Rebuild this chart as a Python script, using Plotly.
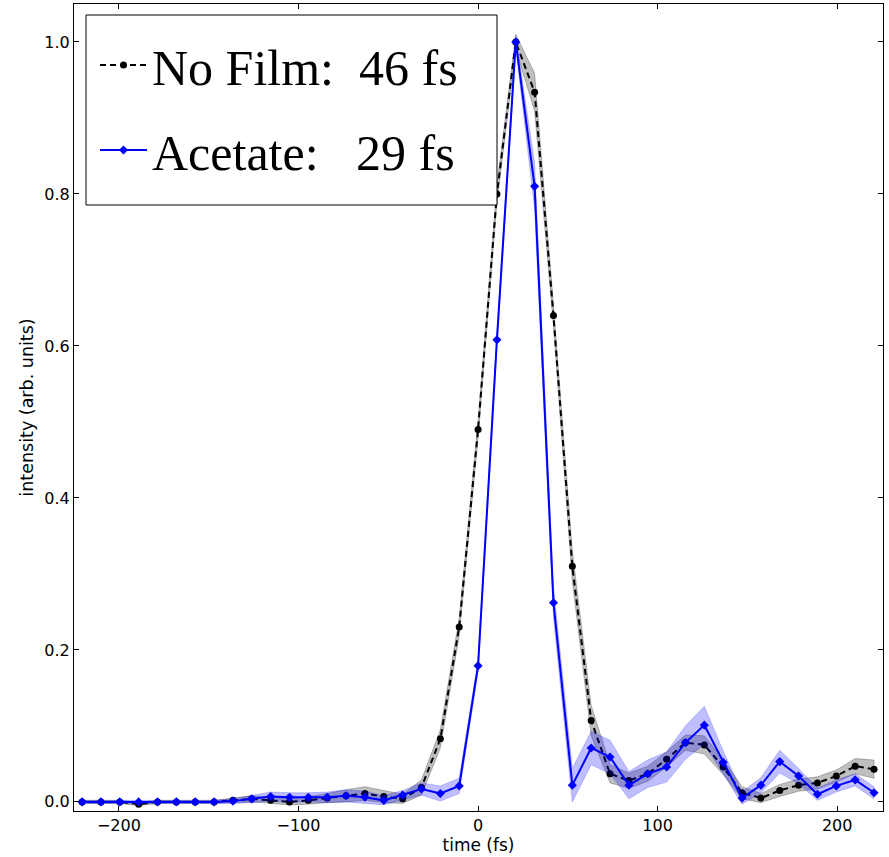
import plotly.graph_objects as go

# time delays (fs)
time_fs = [10.5 * k for k in range(-21, 22)]

nofilm = [0.000, 0.000, 0.000, -0.003, 0.000, 0.000, 0.000, 0.000, 0.002, 0.004,
          0.002, 0.000, 0.002, 0.005, 0.008, 0.011, 0.007, 0.004, 0.019, 0.083,
          0.230, 0.490, 0.800, 1.000, 0.934, 0.640, 0.310, 0.107, 0.037, 0.028,
          0.037, 0.056, 0.078, 0.075, 0.046, 0.012, 0.005, 0.015, 0.022, 0.025,
          0.034, 0.047, 0.043]
nofilm_err = [0.002, 0.002, 0.002, 0.002, 0.002, 0.002, 0.002, 0.002, 0.003, 0.004,
              0.004, 0.004, 0.005, 0.006, 0.008, 0.009, 0.008, 0.006, 0.010, 0.012,
              0.012, 0.012, 0.012, 0.010, 0.025, 0.015, 0.020, 0.020, 0.012, 0.010,
              0.010, 0.010, 0.010, 0.012, 0.010, 0.008, 0.006, 0.008, 0.008, 0.008,
              0.008, 0.010, 0.012]

acetate = [0.000, 0.000, 0.000, 0.000, 0.000, 0.000, 0.000, 0.000, 0.001, 0.004,
           0.007, 0.006, 0.006, 0.006, 0.008, 0.006, 0.002, 0.009, 0.017, 0.011,
           0.021, 0.179, 0.608, 1.000, 0.810, 0.262, 0.022, 0.071, 0.059, 0.022,
           0.037, 0.046, 0.078, 0.101, 0.052, 0.005, 0.022, 0.053, 0.034, 0.010,
           0.021, 0.029, 0.012]
acetate_err = [0.002, 0.002, 0.002, 0.002, 0.002, 0.002, 0.002, 0.002, 0.003, 0.005,
               0.006, 0.006, 0.006, 0.007, 0.008, 0.008, 0.006, 0.006, 0.008, 0.010,
               0.010, 0.008, 0.008, 0.008, 0.030, 0.020, 0.022, 0.022, 0.022, 0.018,
               0.018, 0.020, 0.022, 0.025, 0.015, 0.008, 0.010, 0.015, 0.010, 0.008,
               0.008, 0.008, 0.008]

labels = ["No Film:\u00a0\u00a046 fs", "Acetate:\u00a0\u00a0\u00a029 fs"]


def band(x, y, e):
    xs = list(x) + list(x)[::-1]
    ys = [a + b for a, b in zip(y, e)] + [a - b for a, b in zip(y, e)][::-1]
    return xs, ys


fig = go.Figure()

bx, by = band(time_fs, nofilm, nofilm_err)
fig.add_trace(go.Scatter(x=bx, y=by, fill="toself", mode="lines",
                         line=dict(width=0.8, color="rgba(0,0,0,0.3)"),
                         fillcolor="rgba(0,0,0,0.25)", showlegend=False,
                         hoverinfo="skip"))
fig.add_trace(go.Scatter(x=time_fs, y=nofilm, mode="lines+markers", name=labels[0],
                         line=dict(color="black", width=2, dash="6px,4px"),
                         marker=dict(symbol="circle", size=7, color="black"),
                         legendgroup="a"))

bx, by = band(time_fs, acetate, acetate_err)
fig.add_trace(go.Scatter(x=bx, y=by, fill="toself", mode="lines",
                         line=dict(width=0.8, color="rgba(0,0,255,0.25)"),
                         fillcolor="rgba(0,0,255,0.25)", showlegend=False,
                         hoverinfo="skip"))
fig.add_trace(go.Scatter(x=time_fs, y=acetate, mode="lines+markers", name=labels[1],
                         line=dict(color="#0000ff", width=2),
                         marker=dict(symbol="diamond", size=7, color="#0000ff"),
                         legendgroup="b"))

axis_common = dict(showline=True, linecolor="black", linewidth=1, mirror="ticks",
                   ticks="inside", ticklen=5, tickcolor="black", showgrid=False,
                   zeroline=False,
                   tickfont=dict(family="DejaVu Sans", size=16, color="black"))

# plot area in pixels: x 74..883, y 4..811
PW, PH, L, T = 809.0, 807.0, 74.0, 4.0


def px(xp):
    return (xp - L) / PW


def py(yp):
    return (T + PH - yp) / PH


fig.update_layout(
    width=889, height=857,
    margin=dict(l=74, r=6, t=4, b=46),
    plot_bgcolor="white", paper_bgcolor="white",
    xaxis=dict(range=[-225, 225.5], tickvals=[-200, -100, 0, 100, 200],
               title=dict(text="time (fs)", standoff=4,
                          font=dict(family="DejaVu Sans", size=17, color="black")),
               **axis_common),
    yaxis=dict(range=[-0.012, 1.05], tickvals=[0, 0.2, 0.4, 0.6, 0.8, 1.0],
               tickformat=".1f",
               title=dict(text="intensity (arb. units)", standoff=6,
                          font=dict(family="DejaVu Sans", size=17.5, color="black")),
               **axis_common),
    shapes=[dict(type="rect", xref="paper", yref="paper",
                 x0=px(86), x1=px(497), y0=py(205), y1=py(15),
                 line=dict(color="black", width=1), fillcolor="white",
                 layer="above")],
    legend=dict(x=px(95), y=py(26), xanchor="left", yanchor="top",
                bgcolor="rgba(0,0,0,0)", borderwidth=0,
                font=dict(family="Liberation Serif", size=50, color="black"),
                tracegroupgap=17, itemwidth=47),
    showlegend=True,
)

fig.write_html("out.html")
